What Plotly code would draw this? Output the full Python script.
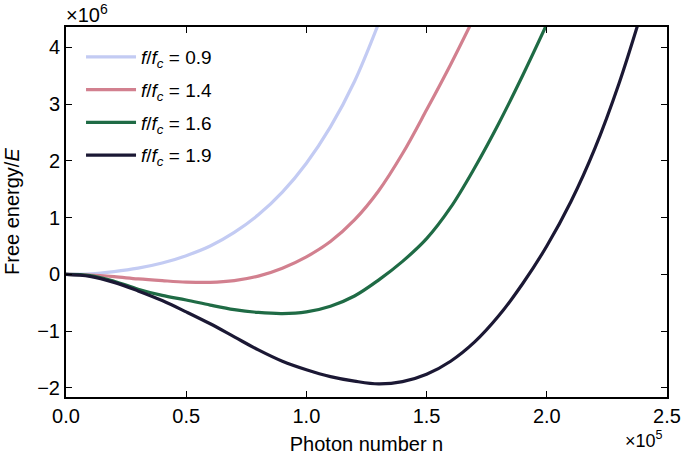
import plotly.graph_objects as go

# photon number n in units of 1e5, free energy in units of 1e6
n_09 = [0, 0.1, 0.2, 0.3, 0.4, 0.5, 0.6, 0.7, 0.8, 0.9, 1.0, 1.1, 1.2, 1.3]
F_09 = [0, 0.01, 0.05, 0.11, 0.20, 0.33, 0.50, 0.74, 1.05, 1.45, 1.96, 2.60, 3.40, 4.42]

n_14 = [0, 0.1, 0.2, 0.3, 0.4, 0.5, 0.6, 0.7, 0.8, 0.9, 1.0, 1.1, 1.2, 1.3, 1.4, 1.5, 1.6, 1.7]
F_14 = [0, -0.01, -0.04, -0.08, -0.11, -0.135, -0.14, -0.11, -0.03, 0.11, 0.31, 0.58, 0.96, 1.47, 2.13, 2.90, 3.70, 4.55]

n_16 = [0, 0.1, 0.2, 0.3, 0.4, 0.5, 0.6, 0.7, 0.8, 0.9, 1.0, 1.1, 1.2, 1.3, 1.4, 1.5, 1.6, 1.7, 1.8, 1.9, 2.0]
F_16 = [0, -0.02, -0.12, -0.26, -0.37, -0.45, -0.54, -0.62, -0.67, -0.69, -0.66, -0.56, -0.38, -0.10, 0.23, 0.63, 1.18, 1.88, 2.66, 3.51, 4.41]

n_19 = [0, 0.1, 0.2, 0.3, 0.4, 0.5, 0.6, 0.7, 0.8, 0.9, 1.0, 1.1, 1.2, 1.3, 1.4, 1.5, 1.6, 1.7, 1.8, 1.9, 2.0, 2.1, 2.2, 2.3, 2.4]
F_19 = [0, -0.035, -0.14, -0.29, -0.46, -0.66, -0.87, -1.10, -1.33, -1.53, -1.68, -1.80, -1.88, -1.93, -1.89, -1.76, -1.53, -1.19, -0.73, -0.16, 0.50, 1.28, 2.22, 3.36, 4.70]

labels = ["0.9", "1.4", "1.6", "1.9"]
colors = ["#c3cbf3", "#d2808f", "#1f6b45", "#1b1834"]

x_ticks = [0, 0.5, 1.0, 1.5, 2.0, 2.5]
x_ticktext = ["0.0", "0.5", "1.0", "1.5", "2.0", "2.5"]
y_ticks = [-2, -1, 0, 1, 2, 3, 4]
y_ticktext = ["\u22122", "\u22121", "0", "1", "2", "3", "4"]

FONT = "Liberation Sans, Arial, sans-serif"
FS = 20

fig = go.Figure()
for i, (nx, fy, lab, col) in enumerate(zip([n_09, n_14, n_16, n_19], [F_09, F_14, F_16, F_19], labels, colors)):
    fig.add_trace(go.Scatter(
        x=nx, y=fy, mode="lines",
        line=dict(color=col, width=3.2, shape="spline", smoothing=1.0),
        name="<i>f</i>/<i>f</i><sub><i>c</i></sub> = " + lab,
        legendgroup="g%d" % i,
    ))

axis_common = dict(
    showgrid=False, zeroline=False, showline=True, linecolor="black", linewidth=2,
    mirror="ticks", ticks="inside", ticklen=6, tickwidth=1.2, tickcolor="black",
    tickfont=dict(family=FONT, size=FS, color="black"), automargin=False,
)

fig.update_xaxes(range=[0, 2.5], tickvals=x_ticks, ticktext=x_ticktext,
                 title=dict(text="Photon number n", font=dict(family=FONT, size=FS, color="black"), standoff=18),
                 **axis_common)
fig.update_yaxes(range=[-2.16, 4.36], tickvals=y_ticks, ticktext=y_ticktext, **axis_common)

fig.add_annotation(xref="paper", yref="paper", x=0.0, y=0.5, xshift=-54, xanchor="center", yanchor="middle",
                   text="Free energy/<i>E</i>", textangle=-90, showarrow=False,
                   font=dict(family=FONT, size=FS, color="black"))
fig.add_annotation(xref="paper", yref="paper", x=0.0, y=1.0, xshift=-2, yshift=-1, xanchor="left", yanchor="bottom",
                   text="\u00d710<sup>6</sup>", showarrow=False,
                   font=dict(family=FONT, size=FS, color="black"))
fig.add_annotation(xref="paper", yref="paper", x=1.0, y=0, xshift=-2, yshift=-56, xanchor="right", yanchor="bottom",
                   text="\u00d710<sup>5</sup>", showarrow=False,
                   font=dict(family=FONT, size=18, color="black"))

fig.update_layout(
    width=685, height=455,
    margin=dict(l=66, r=18, t=27, b=58, autoexpand=False),
    paper_bgcolor="white", plot_bgcolor="white",
    showlegend=True,
    legend=dict(x=0.025, y=0.97, xanchor="left", yanchor="top", bgcolor="rgba(0,0,0,0)",
                font=dict(family=FONT, size=19, color="black"), tracegroupgap=5,
                itemwidth=50),
)

fig.write_html("out.html", config={"displayModeBar": False},
               post_script="document.body.style.margin='0';document.body.style.padding='0';")
